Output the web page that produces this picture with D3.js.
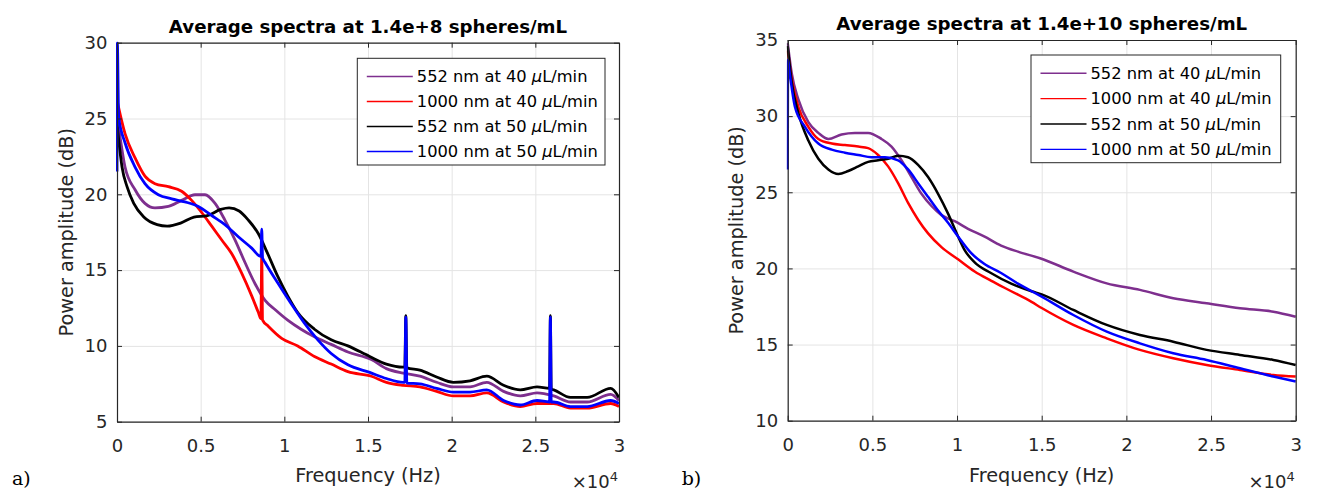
<!DOCTYPE html>
<html><head><meta charset="utf-8">
<script src="https://cdn.jsdelivr.net/npm/d3@7"></script>
<style>body{margin:0;background:#fff}</style>
</head><body><svg id="c" width="1319" height="498"></svg>
<script>
// ---------- data ----------
const xTickValues = [0, 5, 10, 15, 20, 25, 30];           // kHz
const xTickLabels = ["0", "0.5", "1", "1.5", "2", "2.5", "3"];
const yTicksA = [5, 10, 15, 20, 25, 30];
const yTicksB = [10, 15, 20, 25, 30, 35];
const legendLabels = ["552 nm at 40 ", "1000 nm at 40 ", "552 nm at 50 ", "1000 nm at 50 "];
const seriesColors = ["#7E2F8E", "#FF0000", "#000000", "#0000FF"];
const titleA = "Average spectra at 1.4e+8 spheres/mL";
const titleB = "Average spectra at 1.4e+10 spheres/mL";

// panel a) : [frequency kHz, power dB]
const aPurple = [[0,25.0],[0.15,24.0],[0.48,21.8],[1.08,20.3],[1.67,19.4],[2.27,19.1],[3.07,19.2],[3.86,19.6],[4.66,19.97],[5.26,19.97],[5.86,19.4],[6.45,18.3],[7.05,17.0],[7.65,15.5],[8.25,14.1],[8.85,13.0],[9.44,12.4],[10.2,11.7],[11.0,11.1],[11.8,10.6],[12.8,10.1],[13.8,9.6],[15.2,9.1],[16.1,8.5],[17.1,8.2],[18.1,8.0],[19.1,7.6],[20.1,7.3],[21.1,7.3],[22.1,7.6],[23.1,7.0],[24.1,6.7],[25.1,6.9],[26.1,6.7],[27.1,6.3],[28.1,6.3],[29.5,6.8],[30,6.4]];
const aRed = [[0,26.2],[0.08,25.8],[0.48,24.0],[1.08,22.4],[1.67,21.2],[2.27,20.7],[3.07,20.5],[3.86,20.2],[4.46,19.6],[5.06,18.8],[5.66,17.9],[6.25,17.0],[6.85,16.1],[7.45,14.8],[8.05,13.3],[8.45,12.2],[8.6,11.8],[8.65,16.0],[8.7,11.7],[9.04,11.3],[9.84,10.5],[10.8,10.0],[11.8,9.3],[12.8,8.8],[13.8,8.3],[15.2,8.0],[16.1,7.6],[17.1,7.4],[18.1,7.3],[19.1,7.0],[20.1,6.7],[21.1,6.7],[22.1,6.9],[23.1,6.3],[24.1,6.0],[25.1,6.2],[26.1,6.2],[27.1,5.9],[28.1,5.9],[29.5,6.2],[30,6.0]];
const aBlack = [[0,24.7],[0.1,23.6],[0.3,21.8],[0.6,20.5],[1.0,19.4],[1.6,18.5],[2.4,18.0],[3.0,17.9],[3.8,18.1],[4.6,18.5],[5.4,18.6],[6.2,19.0],[6.7,19.1],[7.3,18.9],[7.85,18.3],[8.45,17.4],[9.0,16.1],[9.6,14.6],[10.2,13.3],[10.8,12.2],[11.8,11.1],[12.8,10.4],[13.8,10.0],[15.1,9.3],[16.1,8.8],[17.1,8.6],[17.2,8.6],[17.26,12.0],[17.32,8.55],[18.1,8.4],[19.1,7.95],[20.1,7.6],[21.1,7.7],[22.1,8.0],[23.1,7.4],[24.1,7.1],[25.1,7.3],[25.85,7.2],[25.9,12.0],[25.95,7.15],[26.1,7.1],[27.1,6.6],[28.1,6.6],[29.5,7.2],[30,6.6]];
const aBlue = [[0,21.5],[0.02,30],[0.1,25.1],[0.48,23.4],[1.08,21.8],[1.67,20.7],[2.47,19.97],[3.27,19.7],[4.06,19.5],[4.86,19.2],[5.66,18.6],[6.45,18.0],[7.25,17.2],[8.05,16.45],[8.6,15.9],[8.65,17.7],[8.7,15.8],[8.85,15.5],[9.64,14.1],[10.4,12.8],[11.2,11.5],[12.0,10.4],[12.8,9.5],[13.8,8.75],[15.1,8.25],[16.1,7.85],[17.1,7.6],[17.2,7.6],[17.26,11.9],[17.32,7.55],[18.1,7.5],[19.1,7.2],[20.1,6.95],[21.1,6.95],[22.1,7.1],[23.1,6.4],[24.1,6.1],[25.1,6.4],[25.85,6.3],[25.9,11.9],[25.95,6.3],[26.1,6.3],[27.1,6.0],[28.1,6.0],[29.5,6.4],[30,6.2]];

// panel b)
const bPurple = [[0,34.8],[0.24,32.8],[0.63,31.1],[1.22,29.6],[1.81,28.9],[2.4,28.5],[3.18,28.8],[3.97,28.9],[4.75,28.9],[5.54,28.5],[6.13,28.0],[6.72,27.1],[7.31,26.0],[7.9,24.9],[8.49,24.1],[9.08,23.5],[9.86,23.1],[10.65,22.6],[11.6,22.1],[12.6,21.5],[13.6,21.1],[14.9,20.67],[16.87,19.79],[18.84,19.02],[20.8,18.59],[22.77,18.04],[24.74,17.71],[26.71,17.38],[28.68,17.16],[30,16.83]];
const bRed = [[0,34.3],[0.24,32.4],[0.63,30.6],[1.22,29.3],[1.81,28.5],[2.6,28.2],[3.38,28.1],[4.17,28.0],[4.75,27.9],[5.34,27.45],[5.93,26.7],[6.52,25.6],[7.11,24.3],[7.7,23.2],[8.29,22.3],[9.08,21.4],[10.06,20.6],[11.04,19.8],[12.0,19.2],[13.2,18.5],[14.4,17.8],[15.0,17.4],[16.87,16.29],[18.84,15.41],[20.8,14.65],[22.77,14.1],[24.74,13.66],[26.71,13.33],[28.68,13.0],[30,12.9]];
const bBlack = [[0,34.6],[0.24,32.2],[0.63,30.2],[1.22,28.4],[1.81,27.2],[2.4,26.5],[2.99,26.2],[3.58,26.4],[4.17,26.7],[4.75,27.0],[5.34,27.1],[5.93,27.2],[6.52,27.4],[7.11,27.3],[7.7,26.8],[8.29,26.0],[8.88,24.9],[9.47,23.6],[10.06,22.1],[10.45,21.2],[11.04,20.4],[12.0,19.7],[13.2,19.0],[14.4,18.5],[15.0,18.3],[16.87,17.27],[18.84,16.29],[20.8,15.63],[22.77,15.19],[24.74,14.65],[26.71,14.32],[28.68,13.99],[30,13.66]];
const bBlue = [[0,26.5],[0.02,33.7],[0.1,33.0],[0.43,30.6],[1.02,29.3],[1.81,28.2],[2.6,27.8],[3.38,27.6],[4.17,27.45],[4.95,27.3],[5.74,27.3],[6.52,27.1],[7.11,26.5],[7.7,25.6],[8.29,24.7],[8.88,23.8],[9.47,23.0],[10.06,22.1],[10.84,21.0],[11.6,20.3],[12.6,19.7],[13.6,19.0],[15.0,18.15],[16.87,16.94],[18.84,15.85],[20.8,15.08],[22.77,14.43],[24.74,13.99],[26.71,13.44],[28.68,12.9],[30,12.57]];

// ---------- drawing ----------
const svg = d3.select("#c");
svg.append("rect").attr("width",1319).attr("height",498).attr("fill","#fff");
const AX = "#262626";
const FONT = "DejaVu Sans";

const panels = [
  {x0:117, x1:619, y0:42.7, y1:421.7, yDomain:[5,30], yTicks:yTicksA, series:[aPurple,aRed,aBlack,aBlue], lw:2.8,
   title:titleA, titleY:33.3, leg:{x:357.3, y:58.3, w:247.7, h:106.7, step:25}, tag:"a)", tagX:12, ylabX:73},
  {x0:787.7, x1:1295.7, y0:40, y1:420.7, yDomain:[10,35], yTicks:yTicksB, series:[bPurple,bRed,bBlack,bBlue], lw:2.5,
   title:titleB, titleY:29.8, leg:{x:1031, y:55, w:249.7, h:107.7, step:25.4}, tag:"b)", tagX:681.7, ylabX:743}
];

panels.forEach((p, pi) => {
  const x = d3.scaleLinear().domain([0,30]).range([p.x0, p.x1]);
  const y = d3.scaleLinear().domain(p.yDomain).range([p.y1, p.y0]);
  const W = p.x1 - p.x0, H = p.y1 - p.y0;
  const g = svg.append("g");

  // grid
  g.append("g").attr("transform",`translate(0,${p.y1})`)
    .call(d3.axisBottom(x).tickValues(xTickValues).tickSize(-H).tickFormat(""))
    .call(s => { s.select(".domain").remove(); s.selectAll("line").attr("stroke","#e4e4e4").attr("stroke-width",1); });
  g.append("g").attr("transform",`translate(${p.x0},0)`)
    .call(d3.axisLeft(y).tickValues(p.yTicks).tickSize(-W).tickFormat(""))
    .call(s => { s.select(".domain").remove(); s.selectAll("line").attr("stroke","#e4e4e4").attr("stroke-width",1); });

  // clip
  const cid = "clip"+pi;
  svg.append("clipPath").attr("id",cid).append("rect")
    .attr("x",p.x0-1).attr("y",p.y0-1).attr("width",W+2).attr("height",H+2);

  const line = d3.line().x(d => x(d[0])).y(d => y(d[1])).curve(d3.curveMonotoneX);
  const lg = g.append("g").attr("clip-path",`url(#${cid})`);
  p.series.forEach((s, i) => {
    lg.append("path").attr("d", line(s)).attr("fill","none")
      .attr("stroke", seriesColors[i]).attr("stroke-width", p.lw)
      .attr("stroke-linejoin","round");
  });

  // axes (bottom/left with labels, top/right mirrored)
  const styleAxis = s => {
    s.select(".domain").attr("stroke",AX).attr("stroke-width",1.2);
    s.selectAll(".tick line").attr("stroke",AX).attr("stroke-width",1);
    s.selectAll("text").attr("fill",AX).attr("font-family",FONT).attr("font-size","18px");
  };
  g.append("g").attr("transform",`translate(0,${p.y1})`)
    .call(d3.axisBottom(x).tickValues(xTickValues).tickSizeInner(-5).tickSizeOuter(0).tickPadding(17.3)
      .tickFormat((d,i) => xTickLabels[i]))
    .call(styleAxis);
  g.append("g").attr("transform",`translate(0,${p.y0})`)
    .call(d3.axisTop(x).tickValues(xTickValues).tickSizeInner(-5).tickSizeOuter(0).tickFormat(""))
    .call(styleAxis);
  g.append("g").attr("transform",`translate(${p.x0},0)`)
    .call(d3.axisLeft(y).tickValues(p.yTicks).tickSizeInner(-5).tickSizeOuter(0).tickPadding(9.5))
    .call(styleAxis);
  g.append("g").attr("transform",`translate(${p.x1},0)`)
    .call(d3.axisRight(y).tickValues(p.yTicks).tickSizeInner(-5).tickSizeOuter(0).tickFormat(""))
    .call(styleAxis);

  // title
  g.append("text").attr("x",(p.x0+p.x1)/2).attr("y",p.titleY).attr("text-anchor","middle")
    .attr("font-family",FONT).attr("font-weight","bold").attr("font-size","18.2px").attr("fill","#000")
    .text(p.title);

  // axis labels
  g.append("text").attr("x",(p.x0+p.x1)/2).attr("y",482).attr("text-anchor","middle")
    .attr("font-family",FONT).attr("font-size","19.3px").attr("fill",AX).text("Frequency (Hz)");
  g.append("text").attr("transform",`translate(${p.ylabX},${(p.y0+p.y1)/2}) rotate(-90)`)
    .attr("text-anchor","middle").attr("font-family",FONT).attr("font-size","19.3px").attr("fill",AX)
    .text("Power amplitude (dB)");

  // x10^4 multiplier
  const m = g.append("text").attr("x",p.x1-1).attr("y",488.3).attr("text-anchor","end")
    .attr("font-family",FONT).attr("font-size","18px").attr("fill",AX);
  m.append("tspan").text("\u00d710");
  m.append("tspan").attr("dy","-7").attr("font-size","13px").text("4");

  // panel tag
  g.append("text").attr("x",p.tagX).attr("y",485).attr("font-family","DejaVu Serif")
    .attr("font-size","19px").attr("fill","#000").text(p.tag);

  // legend
  const L = p.leg;
  g.append("rect").attr("x",L.x).attr("y",L.y).attr("width",L.w).attr("height",L.h)
    .attr("fill","#fff").attr("stroke",AX).attr("stroke-width",1);
  legendLabels.forEach((lab, i) => {
    const ry = L.y + 18.2 + i*L.step;
    g.append("line").attr("x1",L.x+9.5).attr("x2",L.x+55.5).attr("y1",ry).attr("y2",ry)
      .attr("stroke",seriesColors[i]).attr("stroke-width",1.4);
    const t = g.append("text").attr("x",L.x+59.5).attr("y",ry).attr("dy","0.36em")
      .attr("font-family",FONT).attr("font-size","16.3px").attr("fill","#000");
    t.append("tspan").text(lab);
    t.append("tspan").attr("font-style","italic").text("\u03bc");
    t.append("tspan").text("L/min");
  });
});
</script></body></html>
